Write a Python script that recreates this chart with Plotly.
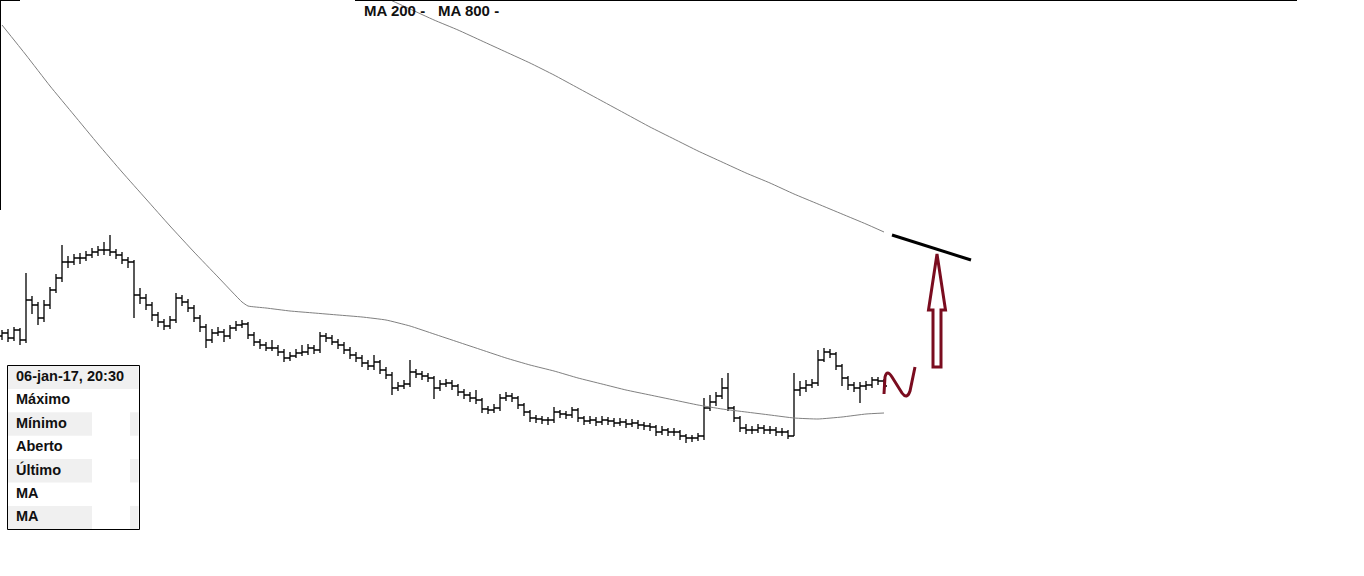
import plotly.graph_objects as go

W, H = 1364, 576

# ---------------- data (price units) ----------------
bar_index = list(range(148))
opens = [240,243,238,246,236,276,271,258,271,286,
         298,314,314,318,318,321,324,326,326,324,
         321,316,314,281,278,271,261,254,250,256,
         278,274,268,258,249,236,243,244,240,248,
         251,252,241,234,231,228,228,224,218,220,
         223,224,228,226,240,238,234,231,226,221,
         218,213,210,214,206,201,188,190,192,204,
         202,200,198,188,192,193,190,184,181,178,
         176,167,166,168,178,180,178,171,164,158,
         157,156,156,164,162,161,166,158,155,156,
         154,156,155,153,154,152,153,151,150,149,
         144,146,144,144,140,138,138,140,168,174,
         180,188,168,158,148,146,146,148,146,146,
         144,144,140,186,188,191,193,216,224,222,
         210,198,191,188,190,191,196,195]
closes = [243,238,246,236,276,271,258,271,286,298,
          314,314,318,318,321,324,326,326,324,321,
          316,314,281,278,271,261,254,250,256,278,
          274,268,258,249,236,243,244,240,248,251,
          252,241,234,231,228,228,224,218,220,223,
          224,228,226,240,238,234,231,226,221,218,
          213,210,214,206,201,188,190,192,204,202,
          200,198,188,192,193,190,184,181,178,176,
          167,166,168,178,180,178,171,164,158,157,
          156,156,164,162,161,166,158,155,156,154,
          156,155,153,154,152,153,151,150,149,144,
          146,144,144,140,138,138,140,168,174,180,
          188,168,158,148,146,146,148,146,146,144,
          144,140,186,188,191,193,216,224,222,210,
          198,191,188,190,191,196,195,190]
highs = [246,247,249,248,303,280,274,276,289,302,
         331,320,322,323,325,328,330,334,341,327,
         324,319,316,288,282,274,264,257,260,283,
         281,277,271,261,252,247,249,247,251,255,
         256,254,244,237,234,236,231,227,224,227,
         231,232,231,244,243,241,237,234,229,224,
         221,216,221,216,209,204,194,196,216,207,
         205,203,200,196,197,196,192,187,184,186,
         178,170,172,182,184,183,180,173,166,161,
         160,159,169,166,165,169,168,160,160,159,
         160,159,158,158,157,157,156,154,153,151,
         150,148,148,146,142,141,143,178,181,184,
         198,203,170,160,152,150,152,151,150,149,
         148,146,203,195,196,197,226,228,227,224,
         212,200,194,194,195,199,199,197]
lows = [236,234,235,231,233,262,251,254,267,283,
        294,308,311,312,315,318,320,321,320,317,
        312,308,258,272,266,255,249,246,247,253,
        270,264,254,244,228,233,240,234,237,245,
        248,237,230,227,225,225,220,214,215,218,
        220,221,222,223,234,231,227,222,217,214,
        209,206,206,202,197,181,185,187,189,198,
        196,194,177,185,189,186,180,177,174,172,
        163,162,163,165,175,174,167,160,154,153,
        152,151,153,158,157,158,154,151,152,150,
        151,151,149,150,148,149,147,146,145,140,
        141,140,140,136,133,134,135,136,165,170,
        177,165,154,144,142,142,143,142,142,140,
        140,137,140,180,184,188,190,214,218,206,
        190,186,184,173,186,188,191,186]

ma200_idx = [0,4,8,12,16,20,24,28,32,36,40,41,44,48,52,56,60,64,68,72,76,80,
             84,88,92,96,100,104,108,112,116,120,124,128,132,136,140,144,147]
ma200_val = [551,521,490,461,432,404,377,350,324,299,274,270,268,265,263,261,259,
             256,250,242,234,226,218,211,205,198,192,186,181,176,171,167,164,161,
             158,157,159,162,163]
ma800_idx = [64,68,72,76,80,84,88,92,96,100,104,108,112,116,120,124,128,132,136,
             140,144,147]
ma800_val = [578,567,556,546,535,524,513,501,488,475,462,449,437,425,414,403,393,
             382,372,362,352,344]

legend_labels = ["MA 200 -", "MA 800 -"]
tooltip_title = "06-jan-17, 20:30"
tooltip_rows = ["Máximo", "Mínimo", "Aberto", "Último", "MA", "MA"]

# ---------------- helpers (pixel -> paper) ----------------
def fx(x):
    return x / W

def fy(y):
    return 1 - y / H

def path(points, close=False):
    s = "M " + " L ".join(f"{fx(x):.5f} {fy(y):.5f}" for x, y in points)
    return s + (" Z" if close else "")

FONT = "Liberation Sans, Arial, sans-serif"
RED = "#7a0c1f"

fig = go.Figure()
fig.add_trace(go.Ohlc(
    x=bar_index, open=opens, high=highs, low=lows, close=closes,
    increasing=dict(line=dict(color="black", width=1.3)),
    decreasing=dict(line=dict(color="black", width=1.3)),
    tickwidth=0.5, hoverinfo="skip", showlegend=False))
fig.add_trace(go.Scatter(x=ma200_idx, y=ma200_val, mode="lines", name="MA 200",
                         line=dict(color="#808080", width=1, shape="spline", smoothing=0.4),
                         hoverinfo="skip", showlegend=False))
fig.add_trace(go.Scatter(x=ma800_idx, y=ma800_val, mode="lines", name="MA 800",
                         line=dict(color="#808080", width=1, shape="spline", smoothing=0.4),
                         hoverinfo="skip", showlegend=False))

shapes = []
# frame pieces
shapes.append(dict(type="line", xref="paper", yref="paper", x0=fx(355), x1=fx(1297),
                   y0=fy(0.5), y1=fy(0.5), line=dict(color="black", width=1)))
shapes.append(dict(type="line", xref="paper", yref="paper", x0=fx(0.5), x1=fx(0.5),
                   y0=fy(0), y1=fy(210), line=dict(color="black", width=1)))
shapes.append(dict(type="line", xref="paper", yref="paper", x0=fx(0), x1=fx(20),
                   y0=fy(0.5), y1=fy(0.5), line=dict(color="black", width=1)))

# tooltip box
row_top = 365.5
row_h = 23.4
GRAY = "#f0f0f0"
shapes.append(dict(type="rect", xref="paper", yref="paper", x0=fx(8), x1=fx(138.5),
                   y0=fy(row_top), y1=fy(row_top + row_h), fillcolor=GRAY,
                   line=dict(width=0), layer="below"))
for k in range(len(tooltip_rows)):
    if k % 2 == 1:
        y0 = row_top + (k + 1) * row_h
        y1 = y0 + row_h
        shapes.append(dict(type="rect", xref="paper", yref="paper", x0=fx(8), x1=fx(92),
                           y0=fy(y0), y1=fy(y1), fillcolor=GRAY, line=dict(width=0),
                           layer="below"))
        shapes.append(dict(type="rect", xref="paper", yref="paper", x0=fx(130), x1=fx(138.5),
                           y0=fy(y0), y1=fy(y1), fillcolor=GRAY, line=dict(width=0),
                           layer="below"))
shapes.append(dict(type="rect", xref="paper", yref="paper", x0=fx(7.5), x1=fx(139.5),
                   y0=fy(365.5), y1=fy(529.5), line=dict(color="black", width=1)))

# hand-drawn annotations
shapes.append(dict(type="line", xref="paper", yref="paper", x0=fx(892), y0=fy(235),
                   x1=fx(971), y1=fy(260), line=dict(color="black", width=3)))
shapes.append(dict(type="path", xref="paper", yref="paper",
                   path=path([(937, 254), (928.5, 310), (933, 310), (933, 367),
                              (941, 367), (941, 310), (945.5, 310)], close=True),
                   line=dict(color=RED, width=3)))
squiggle = (f"M {fx(884):.5f} {fy(394):.5f} L {fx(885):.5f} {fy(377):.5f} "
            f"Q {fx(887):.5f} {fy(369):.5f} {fx(892):.5f} {fy(377):.5f} "
            f"L {fx(902):.5f} {fy(393):.5f} "
            f"Q {fx(907):.5f} {fy(400):.5f} {fx(910):.5f} {fy(391):.5f} "
            f"L {fx(915):.5f} {fy(367):.5f}")
shapes.append(dict(type="path", xref="paper", yref="paper", path=squiggle,
                   line=dict(color=RED, width=3)))

annotations = []
for lbl, x in zip(legend_labels, [363, 437]):
    annotations.append(dict(xref="paper", yref="paper", x=fx(x), y=fy(11),
                            xanchor="left", yanchor="middle", showarrow=False,
                            text=f"<b>{lbl}</b>", borderpad=0,
                            font=dict(family=FONT, size=15, color="#111111")))
all_rows = [tooltip_title] + tooltip_rows
for k, t in enumerate(all_rows):
    yc = row_top + k * row_h + row_h / 2 - 1.5
    annotations.append(dict(xref="paper", yref="paper", x=fx(15), y=fy(yc),
                            xanchor="left", yanchor="middle", showarrow=False,
                            text=f"<b>{t}</b>", borderpad=0,
                            font=dict(family=FONT, size=14.5, color="#111111")))

fig.update_layout(
    width=W, height=H, margin=dict(l=0, r=0, t=0, b=0),
    paper_bgcolor="white", plot_bgcolor="white",
    xaxis=dict(visible=False, range=[-1/3, -1/3 + W / 6], rangeslider=dict(visible=False),
               fixedrange=True),
    yaxis=dict(visible=False, range=[0, H], fixedrange=True),
    shapes=shapes, annotations=annotations, showlegend=False,
    hovermode=False,
)

fig.write_html("out.html", config={"displayModeBar": False},
               post_script="document.body.style.margin='0';document.body.style.overflow='hidden';")
